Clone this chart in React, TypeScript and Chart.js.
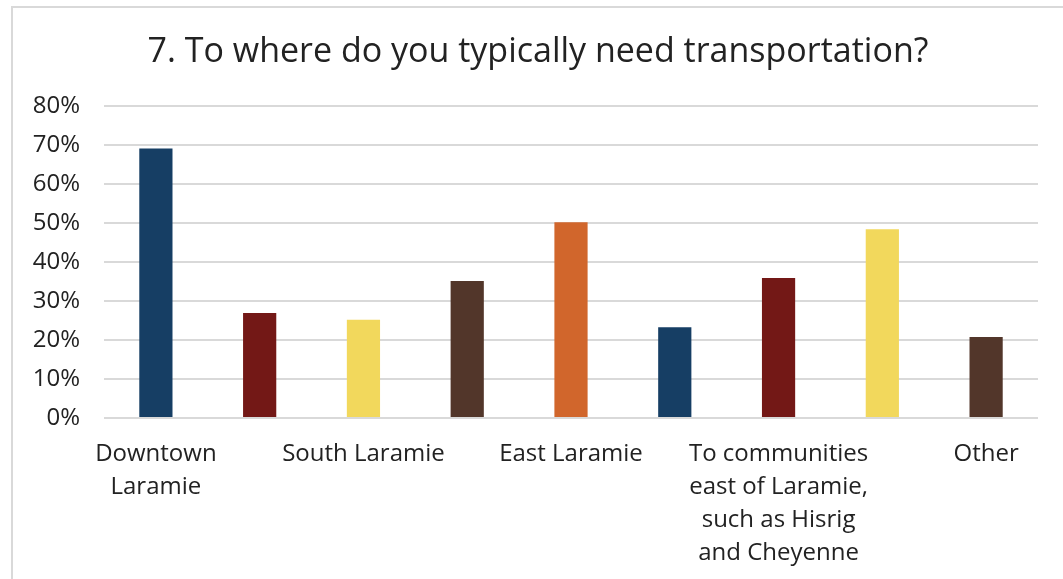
import React, { useEffect, useRef } from "react";
import { Chart, registerables } from "chart.js";

Chart.register(...registerables);

const TITLE = "7. To where do you typically need transportation?";

// Nine bars; Excel only printed every second category label.
const categories: string[][] = [
  ["Downtown", "Laramie"],
  [""],
  ["South Laramie"],
  [""],
  ["East Laramie"],
  [""],
  ["To communities", "east of Laramie,", "such as Hisrig", "and Cheyenne"],
  [""],
  ["Other"],
];

const values: number[] = [69.1, 26.9, 25.2, 35.1, 50.2, 23.3, 35.9, 48.4, 20.8];

const barColors: string[] = [
  "#163E64",
  "#731816",
  "#F2D85C",
  "#52362A",
  "#D1662C",
  "#163E64",
  "#731816",
  "#F2D85C",
  "#52362A",
];

const yTicks = { min: 0, max: 80, step: 10 };

const FONT = "'Open Sans', 'Liberation Sans', Arial, sans-serif";
const TEXT = "#222222";

const titlePlugin = {
  id: "centeredTitle",
  afterDraw(chart: any) {
    const ctx = chart.ctx;
    ctx.save();
    ctx.fillStyle = TEXT;
    ctx.font = `normal 34px ${FONT}`;
    ctx.textAlign = "center";
    ctx.textBaseline = "alphabetic";
    ctx.fillText(TITLE, chart.width / 2, 54);
    ctx.restore();
  },
};

export default function App() {
  const ref = useRef<HTMLCanvasElement | null>(null);

  useEffect(() => {
    if (!ref.current) return;
    const chart = new Chart(ref.current, {
      type: "bar",
      data: {
        labels: categories,
        datasets: [
          {
            data: values,
            backgroundColor: barColors,
            borderWidth: 0,
            categoryPercentage: 1,
            barPercentage: 0.32,
          },
        ],
      },
      plugins: [titlePlugin],
      options: {
        responsive: false,
        animation: false,
        layout: { padding: { left: 0, right: 25, top: 98, bottom: 0 } },
        plugins: {
          legend: { display: false },
          tooltip: { enabled: false },
          title: { display: false },
        },
        scales: {
          x: {
            grid: { display: false, drawTicks: false },
            border: { display: false },
            ticks: {
              autoSkip: false,
              maxRotation: 0,
              minRotation: 0,
              padding: 20,
              color: TEXT,
              font: { family: FONT, size: 24, lineHeight: 1.37 },
            },
            afterFit: (s: any) => {
              s.height = 161;
            },
          },
          y: {
            min: yTicks.min,
            max: yTicks.max,
            border: { display: false },
            grid: { color: "#d9d9d9", lineWidth: 2, drawTicks: false },
            ticks: {
              stepSize: yTicks.step,
              padding: 24,
              color: TEXT,
              font: { family: FONT, size: 24 },
              callback: (v: any) => v + "%",
            },
            afterFit: (s: any) => {
              s.width = 91;
            },
          },
        },
      },
    });
    return () => chart.destroy();
  }, []);

  return (
    <div
      style={{
        position: "fixed",
        left: 0,
        top: 0,
        width: 1063,
        height: 579,
        background: "#ffffff",
        overflow: "hidden",
      }}
    >
      <div
        style={{
          position: "absolute",
          left: 11,
          top: 6,
          width: 1052,
          height: 573,
          borderLeft: "2px solid #d9d9d9",
          borderTop: "2px solid #d9d9d9",
          boxSizing: "border-box",
        }}
      >
        <canvas ref={ref} width={1050} height={571} style={{ display: "block", width: 1050, height: 571 }} />
      </div>
    </div>
  );
}
